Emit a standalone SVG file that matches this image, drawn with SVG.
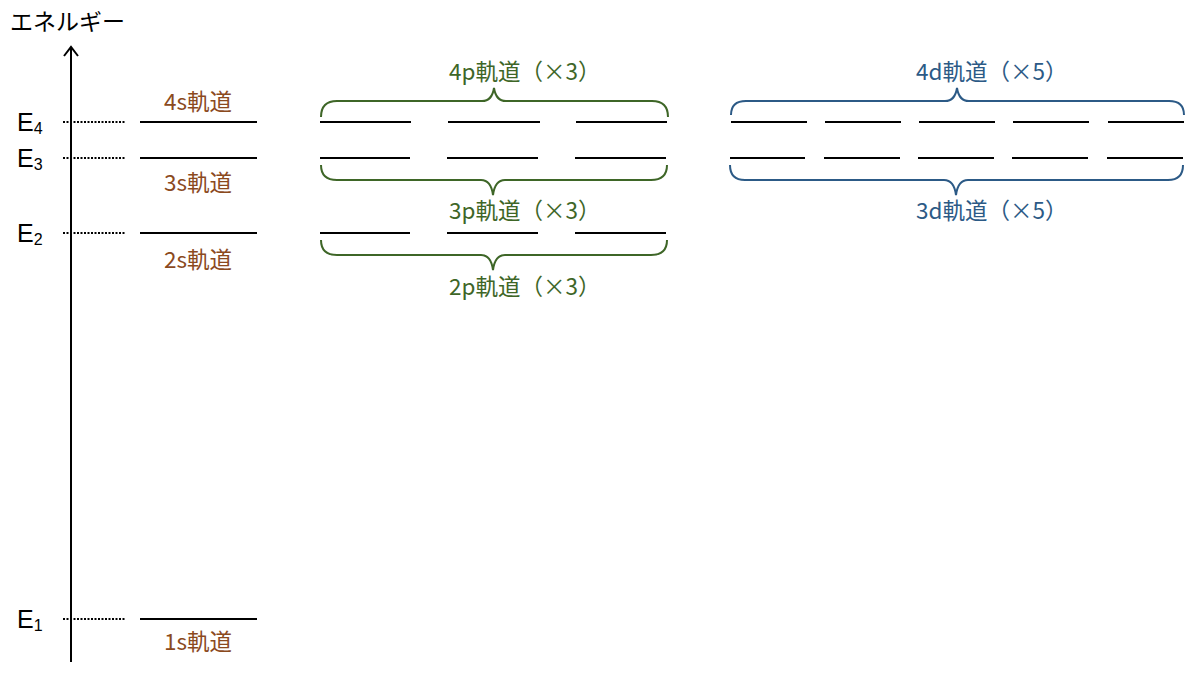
<svg xmlns="http://www.w3.org/2000/svg" width="1200" height="675" viewBox="0 0 1200 675">
<style>
text{font-family:"Noto Sans CJK JP","Liberation Sans",sans-serif;}
.lv{stroke:#000;stroke-width:2;fill:none;}
.dot{stroke:#000;stroke-width:2;stroke-dasharray:2 1.5;fill:none;}
.e{font-family:"Liberation Sans",sans-serif;font-size:25px;fill:#000;}
.es{font-size:16px;}
.s{font-size:22.5px;fill:#8B4A1E;}
.p{font-size:22.5px;fill:#3E6627;}
.d{font-size:22.5px;fill:#2C5A86;}
.bp{stroke:#3E6627;stroke-width:2;fill:none;}
.bd{stroke:#2C5A86;stroke-width:2;fill:none;}
</style>
<rect width="1200" height="675" fill="#fff"/>
<g id="axis">
<text x="10" y="30" style="font-size:23px" fill="#000">エネルギー</text>
<line x1="71" y1="662" x2="71" y2="47" stroke="#000" stroke-width="2"/>
<polyline points="64,56 71,47 78,56" fill="none" stroke="#000" stroke-width="2"/>
</g>
<g id="energy-labels">
<text class="e" x="17" y="131">E<tspan class="es" dy="3">4</tspan></text>
<text class="e" x="17" y="167">E<tspan class="es" dy="3">3</tspan></text>
<text class="e" x="17" y="242">E<tspan class="es" dy="3">2</tspan></text>
<text class="e" x="17" y="628">E<tspan class="es" dy="3">1</tspan></text>
<line class="dot" x1="63" y1="122" x2="125" y2="122"/>
<line class="dot" x1="63" y1="158" x2="125" y2="158"/>
<line class="dot" x1="63" y1="233" x2="125" y2="233"/>
<line class="dot" x1="63" y1="619" x2="125" y2="619"/>
</g>
<g id="s-orbitals">
<line class="lv" x1="140" y1="122" x2="257" y2="122"/>
<line class="lv" x1="140" y1="158" x2="257" y2="158"/>
<line class="lv" x1="140" y1="233" x2="257" y2="233"/>
<line class="lv" x1="140" y1="619" x2="257" y2="619"/>
<text class="s" x="198" y="110" text-anchor="middle">4s軌道</text>
<text class="s" x="198" y="191" text-anchor="middle">3s軌道</text>
<text class="s" x="198" y="268" text-anchor="middle">2s軌道</text>
<text class="s" x="198" y="650" text-anchor="middle">1s軌道</text>
</g>
<g id="p-orbitals">
<line class="lv" x1="320" y1="122" x2="411" y2="122"/>
<line class="lv" x1="448" y1="122" x2="540" y2="122"/>
<line class="lv" x1="576" y1="122" x2="667" y2="122"/>
<line class="lv" x1="320" y1="158" x2="410" y2="158"/>
<line class="lv" x1="447" y1="158" x2="538" y2="158"/>
<line class="lv" x1="575" y1="158" x2="666" y2="158"/>
<line class="lv" x1="320" y1="233" x2="410" y2="233"/>
<line class="lv" x1="447" y1="233" x2="538" y2="233"/>
<line class="lv" x1="575" y1="233" x2="666" y2="233"/>
<path class="bp" d="M321,117 Q321,101 337,101 L482,101 Q492,101 494,88 Q496,101 506,101 L652,101 Q668,101 668,117"/>
<path class="bp" d="M321,165 Q321,180 337,180 L481,180 Q491,180 493,195 Q495,180 505,180 L651,180 Q667,180 667,165"/>
<path class="bp" d="M321,240 Q321,255 337,255 L481,255 Q491,255 493,270 Q495,255 505,255 L651,255 Q667,255 667,240"/>
<text class="p" x="449" y="80">4p軌道（×3）</text>
<text class="p" x="449" y="219">3p軌道（×3）</text>
<text class="p" x="449" y="295">2p軌道（×3）</text>
</g>
<g id="d-orbitals">
<line class="lv" x1="731" y1="122" x2="807" y2="122"/>
<line class="lv" x1="825" y1="122" x2="901" y2="122"/>
<line class="lv" x1="919" y1="122" x2="995" y2="122"/>
<line class="lv" x1="1013" y1="122" x2="1089" y2="122"/>
<line class="lv" x1="1108" y1="122" x2="1184" y2="122"/>
<line class="lv" x1="730" y1="158" x2="805" y2="158"/>
<line class="lv" x1="824" y1="158" x2="900" y2="158"/>
<line class="lv" x1="918" y1="158" x2="994" y2="158"/>
<line class="lv" x1="1012" y1="158" x2="1088" y2="158"/>
<line class="lv" x1="1107" y1="158" x2="1183" y2="158"/>
<path class="bd" d="M731,115 Q731,101 746,101 L945,101 Q955,101 957,88 Q959,101 969,101 L1169,101 Q1184,101 1184,115"/>
<path class="bd" d="M730,165 Q730,180 745,180 L944,180 Q954,180 956,195 Q958,180 968,180 L1168,180 Q1183,180 1183,165"/>
<text class="d" x="916" y="80">4d軌道（×5）</text>
<text class="d" x="916" y="219">3d軌道（×5）</text>
</g>
</svg>
